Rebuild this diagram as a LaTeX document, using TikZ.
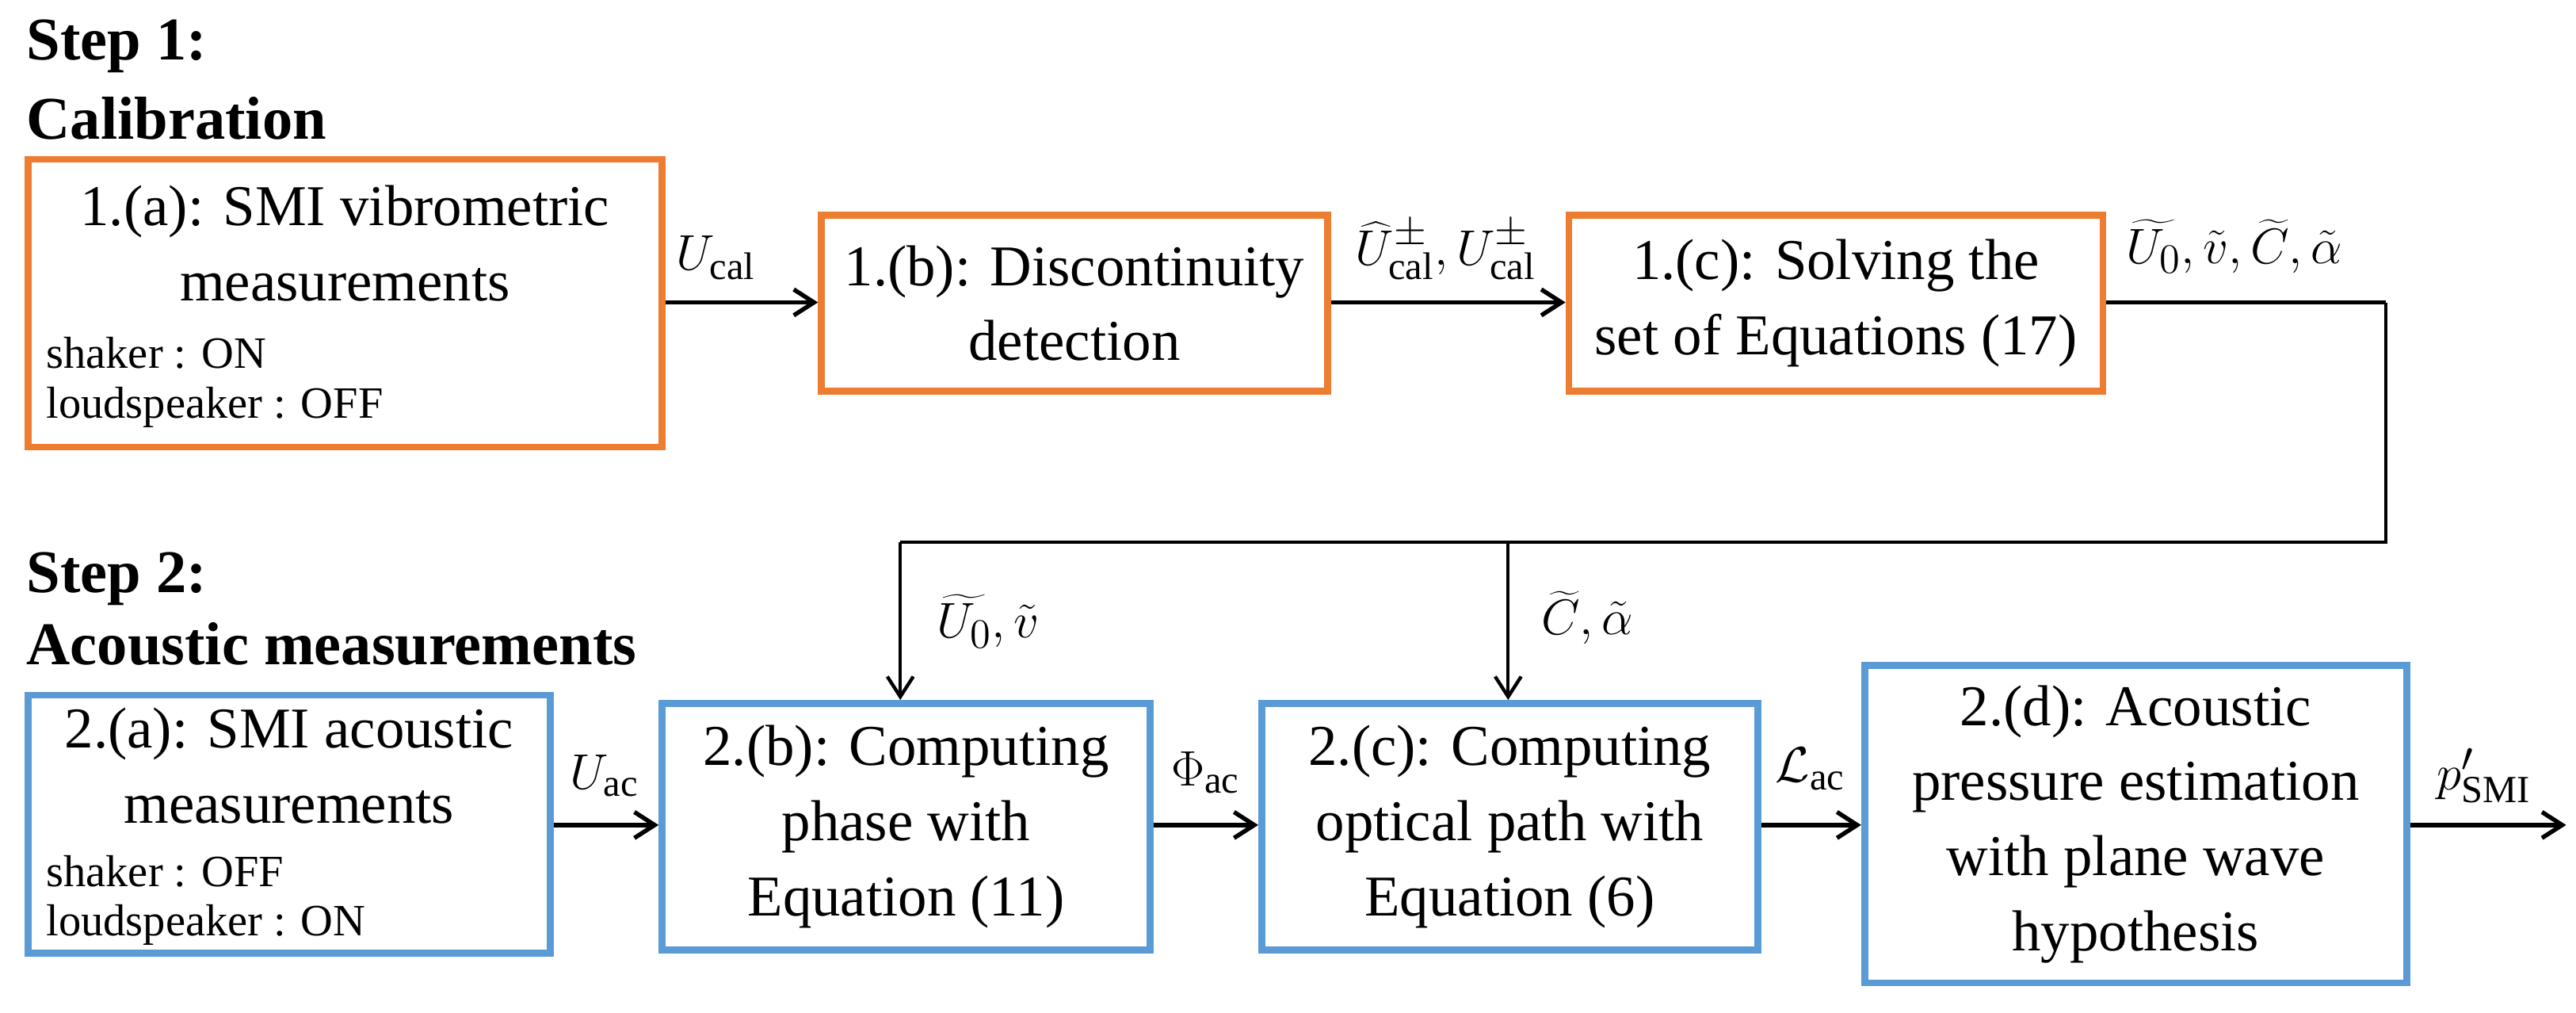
\documentclass[tikz,border=0pt]{standalone}
\usepackage{fontspec}
\setmainfont{Liberation Serif}
\newfontfamily\tnr{Liberation Serif}
\usetikzlibrary{arrows.meta}
\definecolor{org}{HTML}{ED7D31}
\definecolor{blu}{HTML}{5B9BD5}
\begin{document}
\begin{tikzpicture}[x=0.02cm,y=-0.02cm,
  box/.style={draw=#1,line width=2.4pt,fill=white,inner sep=0pt},
  txt/.style={font=\tnr\fontsize{20}{26}\selectfont,align=center},
  small/.style={font=\tnr\fontsize{15.5}{19}\selectfont,anchor=west},
  lbl/.style={font=\fontsize{19}{24}\selectfont},
  stp/.style={font=\tnr\fontsize{21}{25}\selectfont\bfseries,anchor=west},
  arr/.style={-{Straight Barb[length=7pt,width=9pt,line width=1.5pt]},line width=1.6pt},
  thn/.style={-{Straight Barb[length=7pt,width=9pt,line width=1.2pt]},line width=1.1pt}]
\useasboundingbox (0,0) rectangle (1568,616);
\node[stp] (s1) at (10,28) {Step 1:};
\node[stp] (s1b) at (10,72) {Calibration};
\node[stp] (s2) at (10,352) {Step 2:};
\node[stp] (s2b) at (10,392) {Acoustic measurements};
% row 1
\node[box=org,minimum width=386*0.02cm,minimum height=175*0.02cm] (a1) at (210,184.5) {};
\node[txt] (a1t) at (210,148) {1.(a): SMI vibrometric\\measurements};
\node[small] (a1s) at (22,215) {shaker : ON};
\node[small] (a1l) at (22,248) {loudspeaker : OFF};
\node[box=org,minimum width=308*0.02cm,minimum height=107*0.02cm,txt] (b1) at (654,184.5) {1.(b): Discontinuity\\detection};
\node[box=org,minimum width=325*0.02cm,minimum height=107*0.02cm,txt] (c1) at (1117.5,184.5) {1.(c): Solving the\\set of Equations (17)};
% row 2
\node[box=blu,minimum width=318*0.02cm,minimum height=157*0.02cm] (a2) at (176,501.5) {};
\node[txt] (a2t) at (176,466) {2.(a): SMI acoustic\\measurements};
\node[small] (a2s) at (22,530) {shaker : OFF};
\node[small] (a2l) at (22,563) {loudspeaker : ON};
\node[box=blu,minimum width=297*0.02cm,minimum height=150*0.02cm,txt] (b2) at (551.5,503) {2.(b): Computing\\phase with\\Equation (11)};
\node[box=blu,minimum width=302*0.02cm,minimum height=150*0.02cm,txt] (c2) at (919,503) {2.(c): Computing\\optical path with\\Equation (6)};
\node[box=blu,minimum width=330*0.02cm,minimum height=193*0.02cm,txt] (d2) at (1300,501.5) {2.(d): Acoustic\\pressure estimation\\with plane wave\\hypothesis};
% connectors
\draw[arr] (a1.east|-0,184) -- (b1.west|-0,184);
\draw[arr] (b1.east|-0,184) -- (c1.west|-0,184);
\coordinate (r1) at (1452,184);
\coordinate (r2) at (1452,330);
\coordinate (l1) at (548,330);
\coordinate (m1) at (918,330);
\draw[line width=1.6pt] (c1.east|-0,184) -- (r1);
\draw[line width=1.1pt] (r1) -- (r2) -- (l1);
\draw[thn] (l1) -- (l1|-b2.north);
\draw[thn] (m1) -- (m1|-c2.north);
\draw[arr] (a2.east|-0,502) -- (b2.west|-0,502);
\draw[arr] (b2.east|-0,502) -- (c2.west|-0,502);
\draw[arr] (c2.east|-0,502) -- (d2.west|-0,502);
\coordinate (out) at (1562,502);
\draw[arr] (d2.east|-0,502) -- (out);
% labels
\node[lbl] (L1) at (436,157) {$U_{\mathrm{cal}}$};
\node[lbl] (L2) at (880,152) {$\widehat{U}^{\pm}_{\mathrm{cal}},U^{\pm}_{\mathrm{cal}}$};
\node[lbl,anchor=west] (L3) at (1288,150) {$\widetilde{U_0},\tilde{v},\widetilde{C},\tilde{\alpha}$};
\node[lbl,anchor=west] (L4) at (564,378) {$\widetilde{U_0},\tilde{v}$};
\node[lbl,anchor=west] (L5) at (932,376) {$\widetilde{C},\tilde{\alpha}$};
\node[lbl] (L6) at (368,472) {$U_{\mathrm{ac}}$};
\node[lbl] (L7) at (734,470) {$\Phi_{\mathrm{ac}}$};
\node[lbl] (L8) at (1102,468) {$\mathcal{L}_{\mathrm{ac}}$};
\node[lbl] (L9) at (1512,472) {$p'_{\mathrm{SMI}}$};
\end{tikzpicture}
\end{document}
